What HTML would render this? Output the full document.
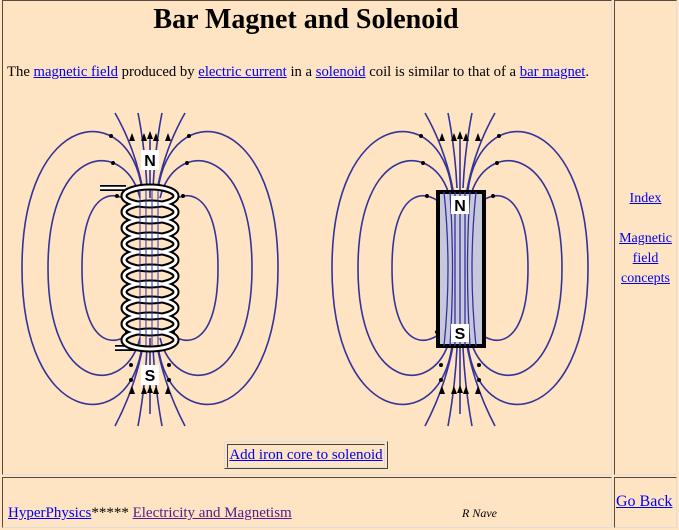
<!DOCTYPE html>
<html><head><style>
body{margin:0;background:#FFE4C4;font-family:"Liberation Serif",serif;width:679px;height:530px;overflow:hidden;position:relative}
a{color:#0000EE}
.cell{position:absolute;border:1px solid;border-color:#5a4a3a #ddd #ddd #5a4a3a;box-sizing:border-box}
</style></head><body>
<div class="cell" style="left:2px;top:0;width:610px;height:475px"></div>
<div class="cell" style="left:614px;top:0;width:63px;height:475px"></div>
<div class="cell" style="left:2px;top:477px;width:610px;height:51px"></div>
<div class="cell" style="left:614px;top:477px;width:63px;height:51px"></div>
<div style="position:absolute;left:0;width:612px;top:4px;text-align:center;font-weight:bold;font-size:28px">Bar Magnet and Solenoid</div>
<div style="position:absolute;left:7px;top:64px;font-size:14.7px;white-space:nowrap">The <a href="#">magnetic field</a> produced by <a href="#">electric current</a> in a <a href="#">solenoid</a> coil is similar to that of a <a href="#">bar magnet</a>.</div>
<svg style="position:absolute;left:0;top:0" width="612" height="475">
<defs>
<g id="half" fill="none" stroke="#33339a" stroke-width="1.6">
<path d="M8 -78 C20 -170,128 -160,128 0 C128 160,20 170,8 78"/>
<path d="M10 -70 C25 -130,102 -125,102 0 C102 125,25 130,10 70"/>
<path d="M15 -60 C30 -80,68 -85,68 0 C68 85,30 80,15 60"/>
<path d="M3 -80 Q5 -120 12 -155"/><path d="M7 -78 Q15 -120 35 -155"/>
<path d="M3 80 Q5 120 12 158"/><path d="M7 78 Q15 120 35 158"/>
</g>
<g id="field">
<use href="#half"/><use href="#half" transform="scale(-1,1)"/>
<path d="M0 -70 V-130 M0 70 V146" stroke="#33339a" stroke-width="1.6"/>
<g fill="#000">
<path d="M0 -137l-3 8h6z M6 -135l-3 8h6z M-6 -135l-3 8h6z M18 -135l-3 8h6z M-18 -135l-3 8h6z"/>
<path d="M0 117l-3 8h6z M6 118l-3 8h6z M-6 118l-3 8h6z M18 118l-3 8h6z M-18 118l-3 8h6z"/>
<circle cx="-39" cy="-132" r="2"/><circle cx="39" cy="-132" r="2"/>
<circle cx="-37" cy="-105" r="2"/><circle cx="37" cy="-105" r="2"/>
<circle cx="-33" cy="-72" r="2"/><circle cx="33" cy="-72" r="2"/>
<circle cx="-19" cy="112" r="2"/><circle cx="19" cy="112" r="2"/>
<circle cx="-19" cy="97" r="2"/><circle cx="19" cy="97" r="2"/>
<circle cx="-23" cy="64" r="2"/><circle cx="23" cy="64" r="2"/>
</g>
</g>
</defs>
<g transform="translate(150,268)"><use href="#field"/></g>
<g transform="translate(460,268)"><use href="#field"/></g>
<!-- coil -->
<g fill="none">
<path d="M100 188 H126 M115 348 H135" stroke="#000" stroke-width="6"/><path d="M100 188 H126 M115 348 H135" stroke="#fff" stroke-width="2.5"/>
<g stroke="#000" stroke-width="7">
<ellipse cx="150" cy="196" rx="26" ry="9"/><ellipse cx="150" cy="212" rx="26" ry="9"/><ellipse cx="150" cy="228" rx="26" ry="9"/><ellipse cx="150" cy="244" rx="26" ry="9"/><ellipse cx="150" cy="260" rx="26" ry="9"/><ellipse cx="150" cy="276" rx="26" ry="9"/><ellipse cx="150" cy="292" rx="26" ry="9"/><ellipse cx="150" cy="308" rx="26" ry="9"/><ellipse cx="150" cy="324" rx="26" ry="9"/><ellipse cx="150" cy="340" rx="26" ry="9"/>
</g>
<g stroke="#fff" stroke-width="3">
<ellipse cx="150" cy="196" rx="26" ry="9"/><ellipse cx="150" cy="212" rx="26" ry="9"/><ellipse cx="150" cy="228" rx="26" ry="9"/><ellipse cx="150" cy="244" rx="26" ry="9"/><ellipse cx="150" cy="260" rx="26" ry="9"/><ellipse cx="150" cy="276" rx="26" ry="9"/><ellipse cx="150" cy="292" rx="26" ry="9"/><ellipse cx="150" cy="308" rx="26" ry="9"/><ellipse cx="150" cy="324" rx="26" ry="9"/><ellipse cx="150" cy="340" rx="26" ry="9"/>
</g>
<g stroke="#33339a" stroke-width="1"><path d="M140 190V345 M146 190V345 M152 190V345 M158 190V345"/></g>
</g>
<!-- magnet -->
<rect x="438" y="192" width="46" height="154" fill="#c8c8dc" stroke="#000" stroke-width="4"/>
<g stroke="#33339a" stroke-width="1.3" fill="none">
<path d="M444 192 Q452 268 444 346 M450 192 Q455 268 450 346 M455 192 V346 M460 192 V346 M465 192 V346 M470 192 Q465 268 470 346 M476 192 Q468 268 476 346"/>
</g>
<rect x="451" y="196" width="18" height="18" fill="#fff"/><rect x="451" y="324" width="18" height="18" fill="#fff"/>
<rect x="141" y="150" width="18" height="20" fill="#fff"/><rect x="141" y="365" width="18" height="20" fill="#fff"/>
<g font-family="Liberation Sans,sans-serif" font-weight="bold" font-size="16" text-anchor="middle">
<text x="150" y="166">N</text><text x="150" y="381">S</text>
<text x="460" y="211">N</text><text x="460" y="339">S</text>
</g>
</svg>
<div style="position:absolute;left:224px;top:441px;width:164px;height:28px;border:1px solid;border-color:#ddd #444 #444 #ddd;box-sizing:border-box"><div style="margin:2px;border:1px solid;border-color:#444 #ddd #ddd #444;height:22px;font-size:15px;text-align:center;line-height:21px;white-space:nowrap"><a href="#">Add iron core to solenoid</a></div></div>
<div style="position:absolute;left:614px;width:63px;top:189px;text-align:center;font-size:14px;line-height:20px"><a href="#">Index</a><br><br><a href="#">Magnetic field concepts</a></div>
<div style="position:absolute;left:8px;top:505px;font-size:15px;white-space:nowrap"><a href="#">HyperPhysics</a>***** <a href="#" style="color:#551A8B">Electricity and Magnetism</a></div>
<div style="position:absolute;left:462px;top:506px;font-size:12px;font-style:italic">R Nave</div>
<div style="position:absolute;left:616px;top:493px;font-size:16px"><a href="#">Go Back</a></div>
</body></html>
